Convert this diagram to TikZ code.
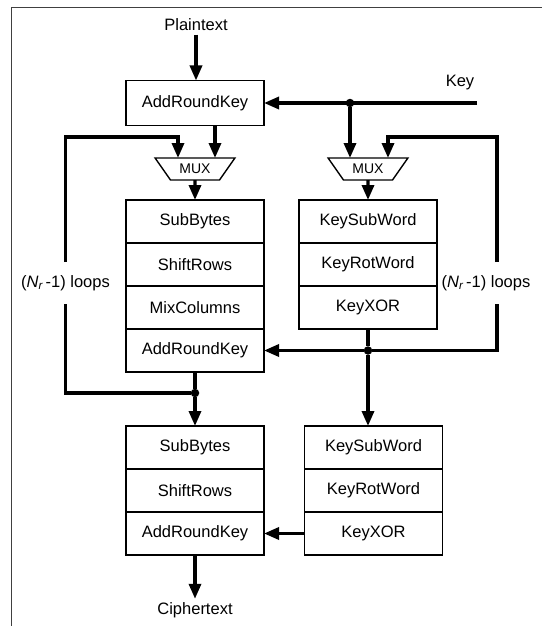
\documentclass[tikz,border=0pt]{standalone}
\usepackage{fontspec}
\setmainfont{Liberation Sans}
\usetikzlibrary{arrows.meta, calc, positioning, shapes.geometric}
\tikzset{
  stage/.style={draw, line width=1.4pt, minimum width=138pt, minimum height=43pt,
    outer sep=0pt, inner sep=0pt, font=\fontsize{16.5}{19}\selectfont},
  mux/.style={draw, line width=1.4pt, trapezium, trapezium left angle=45,
    trapezium right angle=45, shape border rotate=180, trapezium stretches=true,
    minimum width=80pt, minimum height=22pt, inner sep=0pt, outer sep=0pt,
    font=\fontsize{14}{16}\selectfont},
  wire/.style={line width=3.3pt},
  joint/.style={circle, fill, inner sep=0pt, minimum size=8.5pt},
  lbl/.style={font=\fontsize{16.5}{19}\selectfont},
}

\begin{document}
\begin{tikzpicture}[x=1pt, y=-1pt, >={Triangle[length=15pt,width=12pt]}, node distance=0pt]
\useasboundingbox (0,0) rectangle (542,626);
% frame
\draw[line width=0.9pt, black!75] (11,626) -- (11,7) -- (542,7);

% initial round
\node[lbl] (pt) at (196,25) {Plaintext};
\node[stage, minimum height=45pt] (ark0) at (195,103) {AddRoundKey};
\node[lbl] (key) at (460,83) {Key};
\coordinate (keyin) at (477,103);
\node[joint] (kd0) at (350,103) {};

% multiplexers
\node[mux] (mux1) at (195,169) {MUX};
\node[mux] (mux2) at (368,169) {MUX};
\coordinate (m1l) at (178,158);
\coordinate (m1r) at (215,158);
\coordinate (m2l) at (350,158);
\coordinate (m2r) at (388,158);

% main round
\node[stage, anchor=north] (sb1) at (195,200) {SubBytes};
\node[stage, below=of sb1] (sr1) {ShiftRows};
\node[stage, below=of sr1] (mc1) {MixColumns};
\node[stage, below=of mc1] (ark1) {AddRoundKey};
\node[stage, anchor=north] (ksw1) at (368,200) {KeySubWord};
\node[stage, below=of ksw1] (krw1) {KeyRotWord};
\node[stage, below=of krw1] (kx1) {KeyXOR};

% final round
\node[stage, anchor=north] (sb2) at (195,426) {SubBytes};
\node[stage, below=of sb2] (sr2) {ShiftRows};
\node[stage, below=of sr2] (ark2) {AddRoundKey};
\node[stage, anchor=north] (ksw2) at (373.5,426) {KeySubWord};
\node[stage, below=of ksw2] (krw2) {KeyRotWord};
\node[stage, below=of krw2] (kx2) {KeyXOR};
\node[lbl] (ct) at (195,610) {Ciphertext};

% loop labels
\node[lbl, inner ysep=13pt] (lpL) at (65.5,283) {({\itshape N\textsubscript{r}}\,-1) loops};
\node[lbl, inner ysep=13pt] (lpR) at (486,283) {({\itshape N\textsubscript{r}}\,-1) loops};
\coordinate (rloop) at (497,283);
\node[joint] (ld) at (195,393) {};
\node[joint] (kd1) at (kx1.south |- ark1.east) {};

% wires
\draw[wire,->] (pt.south) -- (pt.south |- ark0.north);
\draw[wire,->] (keyin) -- (ark0.east);
\draw[wire,->] (kd0) -- (m2l);
\draw[wire,->] (ark0.south -| m1r) -- (m1r);
\draw[wire,->] (mux1.south) -- (sb1.north);
\draw[wire,->] (mux2.south) -- (ksw1.north);

\draw[wire] (ark1.south) -- (ld);
\draw[wire,->] (ld) -- (sb2.north);
\draw[wire] (ld) -| (lpL.south);
\draw[wire,->] (lpL.north) |- ($(m1l)+(0,-21)$) -- (m1l);

\draw[wire] (kx1.south) -- (kd1);
\draw[wire,->] (kd1) -- (ark1.east);
\draw[wire,->] (kd1) -- (kd1 |- ksw2.north);
\draw[wire] (kd1) -| (rloop |- lpR.south);
\draw[wire,->] (rloop |- lpR.north) |- ($(m2r)+(0,-21)$) -- (m2r);

\draw[wire,->] (kx2.west) -- (ark2.east);
\draw[wire,->] (ark2.south) -- (ct.north);
\end{tikzpicture}
\end{document}
